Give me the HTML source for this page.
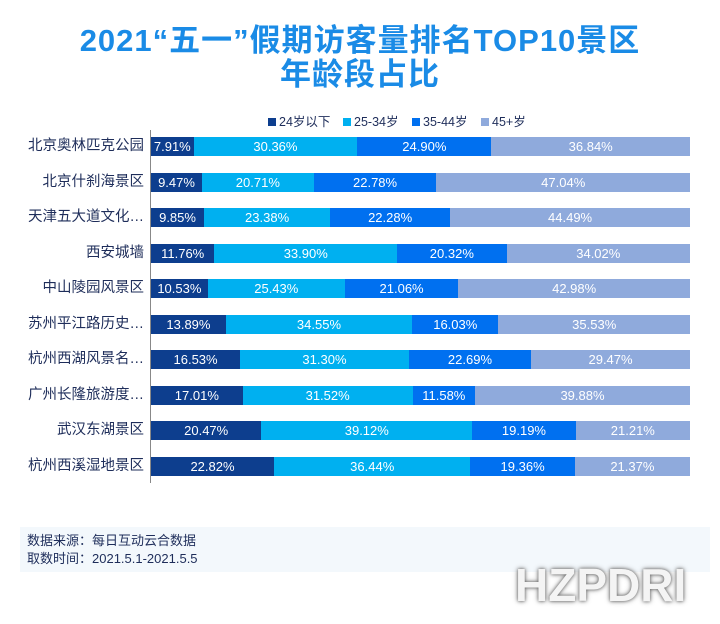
<!DOCTYPE html>
<html><head><meta charset="utf-8"><style>
body{margin:0;width:720px;height:624px;background:#fff;font-family:"Liberation Sans","Noto Sans CJK SC",sans-serif;position:relative;overflow:hidden}
.t{position:absolute;left:0;width:720px;text-align:center;color:#1a8be6;font-weight:bold;font-size:31px;letter-spacing:1px;font-family:"Liberation Sans","Noto Sans CJK SC",sans-serif}
.lab{position:absolute;right:576px;font-size:14.5px;color:#1e2d5a;white-space:nowrap;line-height:18px}
.bar{position:absolute;left:151px;height:19px;display:flex;width:539px}
.bar div{height:100%;color:#fff;font-size:13px;line-height:19px;text-align:center;overflow:hidden;white-space:nowrap}
.a{background:#0d3e8e}.b{background:#00b0f0}.c{background:#0070f0}.d{background:#8faadc}
.leg{position:absolute;top:111px;font-size:12.5px;color:#1e2d5a}
.leg i{display:inline-block;width:8px;height:8px;margin-right:3px;vertical-align:0}
</style></head><body>
<div class="t" style="top:15px">2021“五一”假期访客量排名TOP10景区</div>
<div class="t" style="top:49px">年龄段占比</div>
<div class="leg" style="left:268px"><i class="a"></i>24岁以下</div>
<div class="leg" style="left:343px"><i class="b"></i>25-34岁</div>
<div class="leg" style="left:412px"><i class="c"></i>35-44岁</div>
<div class="leg" style="left:481px"><i class="d"></i>45+岁</div>
<div style="position:absolute;left:150px;top:130px;width:1px;height:353px;background:#888"></div>
<div id="rows"></div>
<div style="position:absolute;left:20px;top:527px;width:690px;height:45px;background:#f3f8fc"></div>
<div style="position:absolute;left:27px;top:532px;font-size:13px;color:#1e2d5a;line-height:18px">数据来源：每日互动云合数据<br>取数时间：2021.5.1-2021.5.5</div>
<div style="position:absolute;left:515px;top:558px;font-size:46px;font-weight:bold;color:#f4f4f4;letter-spacing:0px;text-shadow:0 0 3px #666,0 0 6px #999">HZPDRI</div>
<script>
var d=[["北京奥林匹克公园",7.91,30.36,24.90,36.84],["北京什刹海景区",9.47,20.71,22.78,47.04],["天津五大道文化…",9.85,23.38,22.28,44.49],["西安城墙",11.76,33.90,20.32,34.02],["中山陵园风景区",10.53,25.43,21.06,42.98],["苏州平江路历史…",13.89,34.55,16.03,35.53],["杭州西湖风景名…",16.53,31.30,22.69,29.47],["广州长隆旅游度…",17.01,31.52,11.58,39.88],["武汉东湖景区",20.47,39.12,19.19,21.21],["杭州西溪湿地景区",22.82,36.44,19.36,21.37]];
var h="";d.forEach(function(r,i){var y=137+i*35.5;var s=r[1]+r[2]+r[3]+r[4];
h+='<div class="lab" style="top:'+(y)+'px">'+r[0]+'</div><div class="bar" style="top:'+y+'px">';
["a","b","c","d"].forEach(function(c,j){h+='<div class="'+c+'" style="width:'+(r[j+1]/s*100)+'%">'+r[j+1].toFixed(2)+'%</div>'});h+='</div>'});
document.getElementById("rows").innerHTML=h;
</script>
</body></html>
